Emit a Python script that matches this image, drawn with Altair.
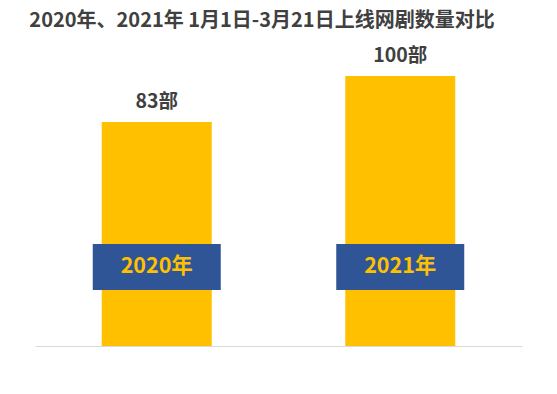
import altair as alt
import pandas as pd

title_text = ["2020年、2021年 1月1日-3月21日上线网剧数量对比"]
years = ["2020年", "2021年"]
counts = [83, 100]
value_labels = ["83部", "100部"]

df = pd.DataFrame({"year": years, "count": counts, "label": value_labels})
tdf = pd.DataFrame({"t": title_text})

FONT = "Noto Sans CJK SC"
BAR = "#FFC000"
BOX = "#2F5597"
DARK = "#404040"

x = alt.X("year:N", sort=years,
          scale=alt.Scale(paddingInner=0, paddingOuter=0),
          axis=alt.Axis(labels=False, ticks=False, title=None,
                        domainColor="#D9D9D9", domainWidth=1, grid=False))
y = alt.Y("count:Q", scale=alt.Scale(domain=[0, 125.2], nice=False), axis=None)

base = alt.Chart(df)

bars = base.mark_bar(size=110, color=BAR).encode(x=x, y=y)

vals = base.mark_text(font=FONT, fontSize=19.5, fontWeight="bold", color=DARK,
                      baseline="alphabetic", dy=-14).encode(x=x, y=y, text="label:N")

boxes = base.mark_bar(size=128, color=BOX).encode(
    x=x, y=alt.value(236), y2=alt.value(282))

box_text = base.mark_text(font=FONT, fontSize=21.5, fontWeight="bold", color=BAR,
                          baseline="middle").encode(
    x=x, y=alt.value(259), text="year:N")

title = alt.Chart(tdf).mark_text(font=FONT, fontSize=20, fontWeight="bold",
                                 color=DARK, baseline="middle", align="center").encode(
    x=alt.value(227), y=alt.value(13), text="t:N")

chart = alt.layer(bars, vals, boxes, box_text, title).properties(
    width=487, height=338,
    autosize=alt.AutoSizeParams(type="none"),
    padding={"left": 27, "top": 0, "right": 27, "bottom": 40},
    background="white",
).configure_view(stroke=None)

chart.save("out.html", embed_options={"renderer": "svg", "actions": False})
